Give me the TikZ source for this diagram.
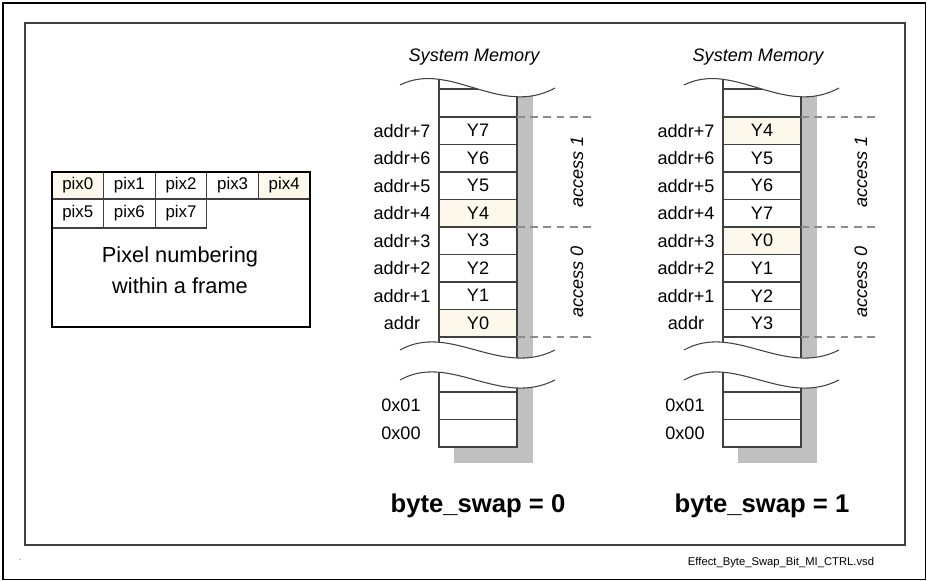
\documentclass[tikz,border=0pt]{standalone}
\usepackage{fontspec}
\setmainfont{Liberation Sans}
\definecolor{cream}{HTML}{FCF8EC}
\definecolor{shadowgray}{HTML}{C0C0C0}
\definecolor{cellline}{HTML}{404040}

\begin{document}
\begin{tikzpicture}[x=0.02cm,y=-0.02cm,
    cell/.style={draw=cellline,line width=0.6pt},
    txt/.style={inner sep=0pt,font=\fontsize{10.3}{12}\selectfont},
    pixtxt/.style={inner sep=0pt,font=\fontsize{9.6}{11}\selectfont},
    itxt/.style={inner sep=0pt,font=\itshape\fontsize{10.3}{12}\selectfont},
    bigtxt/.style={inner sep=0pt,font=\bfseries\fontsize{14.6}{17}\selectfont},
    bound/.style={draw=black!45,dashed,dash pattern=on 4.5pt off 3pt,line width=0.8pt}]
    \useasboundingbox (0,0) rectangle (927,581);
    \draw [line width=0.6pt] (3,3) rectangle (925.5,579.5);
    \draw [black!75,line width=0.9pt] (25,23) rectangle (905,545);
    % pixel numbering
    \foreach \n in {0,...,4} {
        \def\fil{white}\ifnum\n=0 \def\fil{cream}\fi\ifnum\n=4 \def\fil{cream}\fi
        \filldraw [cell,fill=\fil] (52+51.6*\n,172) rectangle ++(51.6,27);
        \node [pixtxt] (pix\n) at (77.8+51.6*\n,185.5) {pix\n};
    }
    \foreach \n in {5,6,7} {
        \draw [cell] (52+51.6*\n-258,199) rectangle ++(51.6,29);
        \node [pixtxt] (pix\n) at (77.8+51.6*\n-258,213.5) {pix\n};
    }
    \draw [line width=1.4pt] (52,172) rectangle (310,327);
    \node [inner sep=0pt,font=\fontsize{12.4}{14}\selectfont] (frame1) at (180,257) {Pixel numbering};
    \node [inner sep=0pt,font=\fontsize{12.4}{14}\selectfont] (frame2) at (180,286) {within a frame};
    % memory
    \foreach \blk/\dx/\vals/\sw in {a/0/{7,6,5,4,3,2,1,0}/0,b/284/{4,5,6,7,0,1,2,3}/1} {
        \begin{scope}[shift={(\dx,0)}]
            \fill [shadowgray] (454,90) rectangle (533,463);
            \filldraw [cell,fill=white] (439,70) rectangle (517,447);
            \draw [cell] (439,89) -- (517,89);
            \foreach \v [count=\i from 0] in \vals {
                \pgfmathtruncatemacro\k{7-\i}
                \def\fil{white}\ifnum\v=0 \def\fil{cream}\fi\ifnum\v=4 \def\fil{cream}\fi
                \filldraw [cell,fill=\fil] (439,117+27.5*\i) rectangle ++(78,27.5);
                \node [txt] (\blk y\i) at (478,130.75+27.5*\i) {Y\v};
                \node [txt] (\blk l\i) at (402,130.75+27.5*\i) {addr\ifnum\k>0+\k\fi};
            }
            \draw [cell] (439,392) -- (517,392) (439,419.5) -- (517,419.5);
            \node [txt] (\blk low1) at (401,405.75) {0x01};
            \node [txt] (\blk low0) at (401,433.25) {0x00};
            % torn edges
            \fill [white] (400,85) .. controls (450,60) and (500,118) .. (555,88) -- (555,62) -- (400,62) -- cycle;
            \fill [white] (400,350) .. controls (450,322) and (500,378) .. (555,350) -- (555,380) .. controls (500,408) and (450,352) .. (400,380) -- cycle;
            \draw [cell] (400,85) .. controls (450,60) and (500,118) .. (555,88);
            \draw [cell] (400,350) .. controls (450,322) and (500,378) .. (555,350);
            \draw [cell] (400,380) .. controls (450,352) and (500,408) .. (555,380);
            \foreach \yy in {117,227,337}
                \draw [bound] (517,\yy) -- (595,\yy);
            \node [itxt] (\blk mem) at (474,57) {System Memory};
            \node [itxt,rotate=90] (\blk acc1) at (577,172) {access 1};
            \node [itxt,rotate=90] (\blk acc0) at (577,282) {access 0};
            \node [bigtxt] (\blk swap) at (478,506) {byte\_swap = \sw};
        \end{scope}
    }
    \node [inner sep=0pt,font=\fontsize{6.4}{7.5}\selectfont] (file) at (781,563) {Effect\_Byte\_Swap\_Bit\_MI\_CTRL.vsd};
    \node [inner sep=0pt,font=\fontsize{6}{7}\selectfont,black!50] (dot) at (20,560) {.};
\end{tikzpicture}
\end{document}
